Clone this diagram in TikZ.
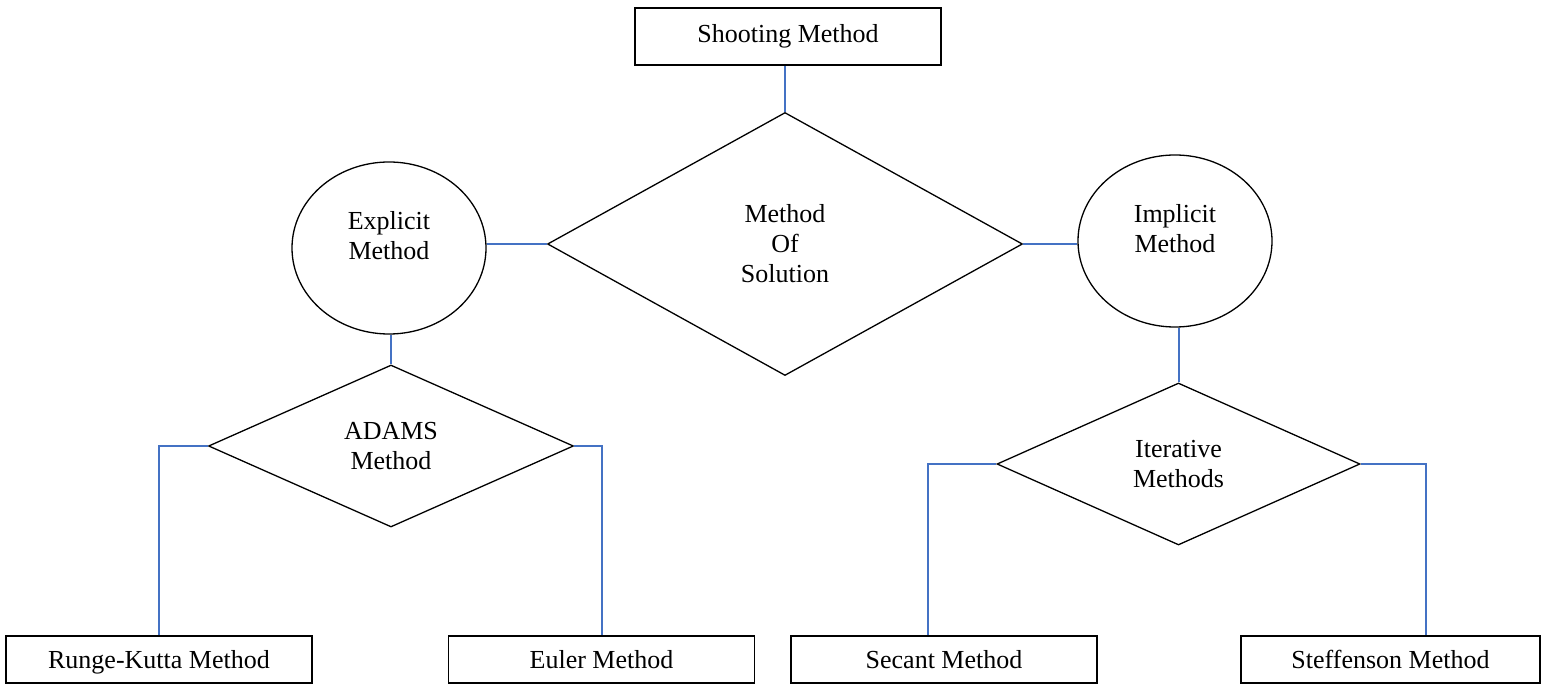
\documentclass[tikz,border=0pt]{standalone}
\usepackage{fontspec}
\setmainfont{Liberation Serif}
\usepackage{tikz}
\usetikzlibrary{shapes.geometric}
\definecolor{linkblue}{RGB}{68,114,196}

\begin{document}
\begin{tikzpicture}[
            x = 0.5pt, y = -0.5pt, % one unit per pixel, y going down
            font = \fontsize{13}{15}\selectfont,
            line width = 0.65pt % line style
        ]

        \tikzstyle{methodbox}=[
            draw = black,
            rectangle,
            inner sep = 0pt,
            text height = 1em, % same baseline in every box
            text depth = 0.12em,
            minimum width = 153pt,
            minimum height = 23.5pt
        ]
        \tikzstyle{choice}=[
            draw = black,
            diamond,
            inner sep = 0pt,
            align = center
        ]
        \tikzstyle{family}=[
            draw = black,
            ellipse,
            inner sep = 0pt,
            minimum width = 97pt,
            minimum height = 86pt
        ]
        \tikzstyle{link}=[draw = linkblue, line width = 1pt]

        \useasboundingbox (0,0) rectangle (1543,684);

        \node[methodbox, minimum height = 28.5pt, text depth = 0.35em] (shoot) at (788,36.5) {Shooting Method};
        \node[choice, minimum width = 237.5pt, minimum height = 131.5pt] (sol) at (785,244) {Method\\Of\\Solution};
        \node[family, label={[align=center, yshift=6pt]center:Explicit\\Method}] (explicit) at (389,248) {};
        \node[family, label={[align=center, yshift=6pt]center:Implicit\\Method}] (implicit) at (1175,241) {};
        \node[choice, minimum width = 182.5pt, minimum height = 81pt] (adams) at (391,446) {ADAMS\\Method};
        \node[choice, minimum width = 181.5pt, minimum height = 81pt] (iter) at (1178.5,464) {Iterative\\Methods};
        \node[methodbox] (rk) at (159,659.5) {Runge-Kutta Method};
        \node[methodbox] (euler) at (601.5,659.5) {Euler Method};
        \node[methodbox] (secant) at (944,659.5) {Secant Method};
        \node[methodbox, minimum width = 149.5pt] (steff) at (1390.5,659.5) {Steffenson Method};

        \draw[link] (sol.north) -- (sol.north |- shoot.south);
        \draw[link] (sol.west) -- (sol.west -| explicit.east);
        \draw[link] (sol.east) -- (sol.east -| implicit.west);
        \draw[link] (adams.north) -- (adams.north |- explicit.south);
        \draw[link] (iter.north) -- (iter.north |- implicit.south);
        \draw[link] (adams.west) -| (rk.north);
        \draw[link] (adams.east) -| (euler.north);
        \draw[link] (iter.west) -| ([xshift=-8pt]secant.north);
        \draw[link] (iter.east) -| ([xshift=17.75pt]steff.north);

    \end{tikzpicture}
\end{document}
